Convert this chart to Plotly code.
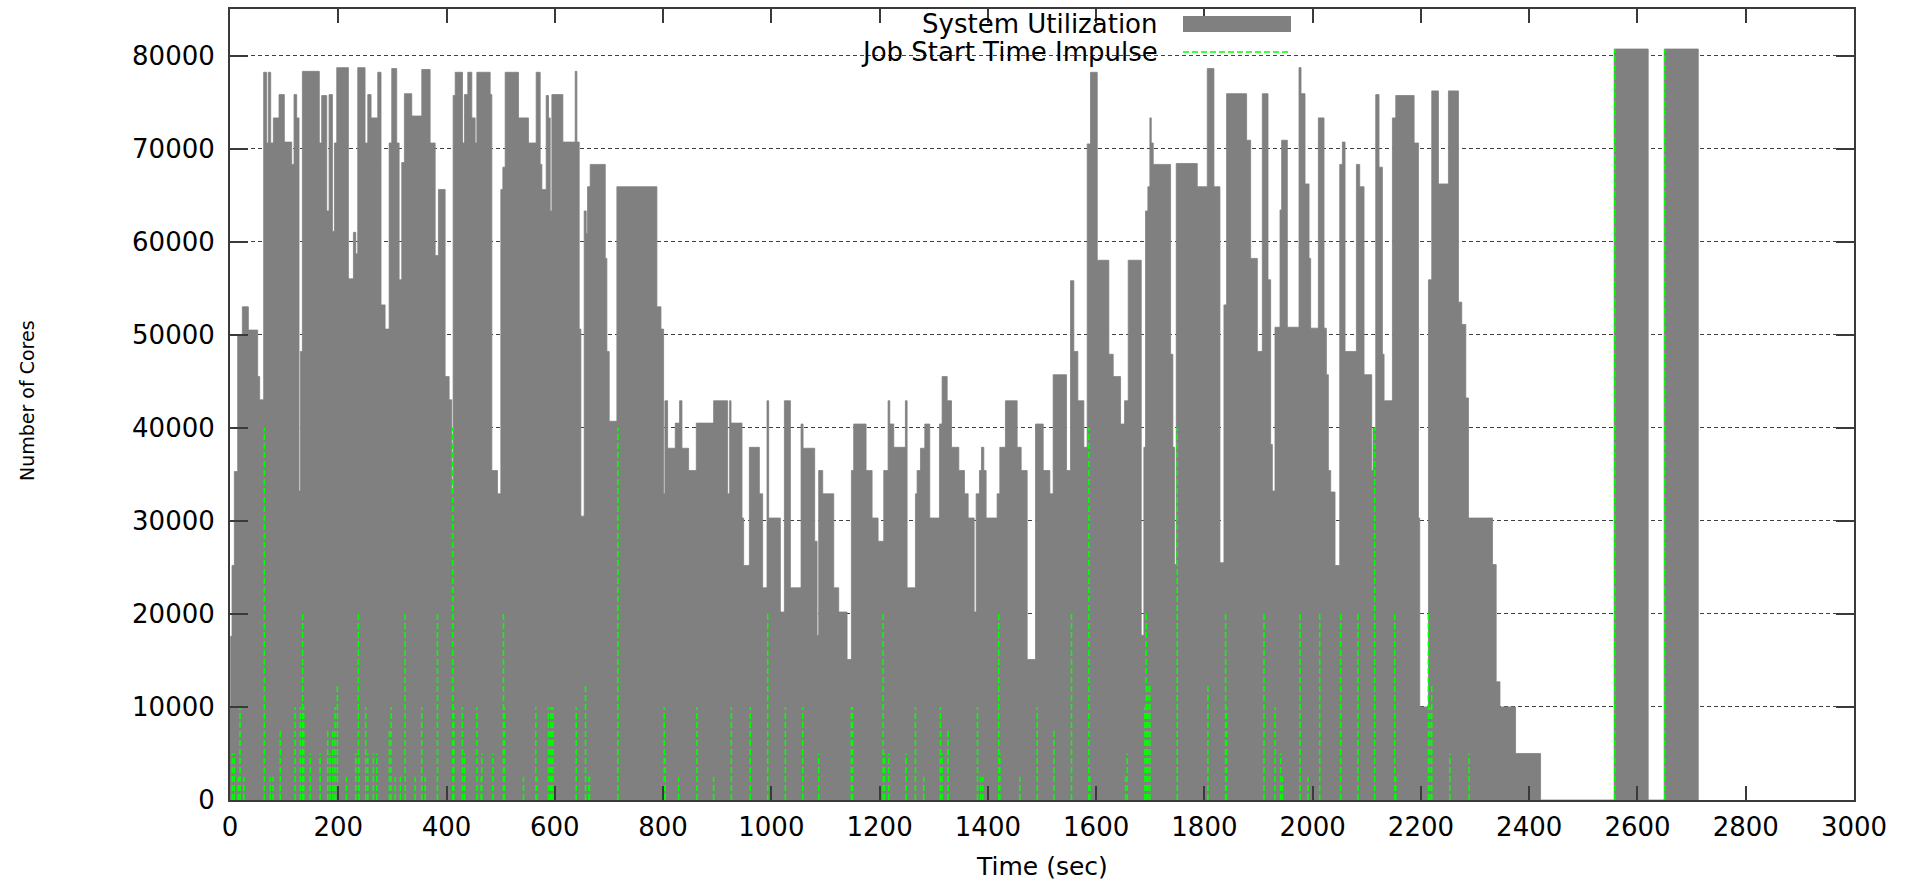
import plotly.graph_objects as go

# System utilization as a step function: each entry starts a new level (cores busy)
step_time_s = [
    0, 1.2, 3.7, 8.0, 14.2, 22.8, 33.9, 51.1, 54.8, 62.2, 67.8, 70.9, 75.2, 80.1, 90.6,
    100.4, 114.0, 118.3, 123.2, 127.5, 130.0, 133.7, 165.0, 169.4, 178.7, 183.0, 189.2,
    192.9, 197.2, 218.7, 228.0, 232.3, 236.0, 249.5, 254.5, 260.6, 273.0, 279.0, 286.5,
    294.0, 298.8, 308.0, 312.4, 317.3, 322.2, 335.8, 354.3, 369.7, 379.0, 385.0, 397.4,
    404.8, 409.7, 412.2, 416.0, 429.5, 433.0, 439.3, 446.7, 452.9, 456.0,
    480.6, 483.7, 494.1, 500.3, 504.0, 508.3, 533.0, 551.4, 565.6, 573.0, 576.1, 584.1,
    588.4, 591.5, 594.6, 614.9, 637.7, 640.8, 645.1, 648.2, 654.3, 658.0, 660.5, 665.4,
    693.2, 696.2, 700.5, 714.7, 788.6, 796.1, 801.0, 803.4, 808.4, 822.5, 830.5, 834.9,
    847.2, 861.4, 893.4, 919.3, 923.0, 925.5,
    945.8, 948.9, 959.4, 977.9, 984.0, 992.0, 995.1, 1016.7, 1024.1, 1035.2, 1054.9,
    1058.6, 1080.1, 1084.5, 1087.5, 1094.9, 1115.3, 1124.5, 1139.9, 1147.9, 1152.2,
    1175.0, 1186.1, 1197.2, 1207.7, 1215.7, 1218.8, 1226.2, 1247.7, 1250.8, 1266.2,
    1269.3, 1275.5, 1283.5, 1292.7, 1310.6, 1315.5, 1324.8, 1332.8, 1346.3, 1356.8,
    1363.6, 1374.7, 1378.4, 1384.5, 1388.2, 1392.5, 1396.8,
    1417.1, 1422.1, 1432.5, 1454.1, 1461.5, 1472.6, 1488.0, 1502.2, 1514.5, 1520.6,
    1545.3, 1552.7, 1558.8, 1566.2, 1577.3, 1583.5, 1589.6, 1602.0, 1623.5, 1631.5,
    1645.1, 1652.5, 1659.3, 1683.3, 1688.2, 1691.3, 1695.6, 1699.3, 1701.8, 1705.5,
    1737.5, 1741.8, 1744.9, 1748.0, 1786.8, 1805.3, 1817.6, 1828.7, 1836.1, 1841.0,
    1878.0, 1885.4, 1897.8, 1907.0, 1917.5, 1922.4, 1925.5, 1930.4, 1939.7, 1942.7,
    1953.2, 1974.8, 1978.5, 1985.9, 1993.3, 1996.3, 2010.5, 2021.0, 2025.3, 2029.0,
    2033.3, 2041.3, 2050.0, 2054.9, 2059.8, 2080.8, 2086.9, 2094.9, 2109.1, 2111.6,
    2116.5, 2122.6, 2128.8, 2131.9, 2147.3, 2153.5, 2187.4, 2195.4, 2197.8, 2213.9,
    2220.0, 2232.3, 2250.8, 2269.3, 2275.4, 2282.9, 2287.8, 2332.2, 2339.0, 2346.0,
    2374.8, 2421.0, 2557.0, 2619.8, 2649.4, 2712.3,
]
cores_in_use = [
    10000, 17600, 25200, 35300, 50000, 53000, 50500, 45500, 43000, 78200, 70600, 78200,
    70600, 73300, 75800, 70700, 68300, 75800, 73300, 33200, 48200, 78300, 70600, 75700,
    63300, 75800, 61100, 70600, 78700, 56000, 61000, 58700, 78700, 70600, 75800, 73300,
    78200, 53200, 50600, 70600, 78600, 70600, 55900, 68500, 75900, 73500, 78500, 70600,
    58500, 65600, 45500, 43000, 32900, 75700, 78200, 70600, 75800, 78200, 73300, 70600,
    78200,
    75800, 35400, 32900, 65600, 68000, 78200, 73300, 70600, 78200, 68300, 65600, 75700,
    73300, 63300, 75800, 70700, 78300, 70700, 50600, 30500, 63300, 60900, 65900, 68300,
    58200, 48200, 40700, 65900, 53000, 50600, 32900, 42900, 37800, 40500, 42900, 37800,
    35400, 40500, 42900, 32900, 42900, 40500,
    30300, 25200, 37900, 32900, 22800, 42900, 30300, 20200, 42900, 22800, 40400,
    37800, 27800, 17700, 35400, 32900, 22800, 20200, 15100, 35400, 40400,
    35400, 30300, 27800, 35400, 42900, 40400, 37900, 42900, 22800, 32900,
    35400, 37800, 40400, 30300, 40400, 45500, 42900, 37900, 35400, 32900,
    30300, 20200, 32900, 35400, 37900, 35400, 30300,
    32900, 37900, 42900, 37900, 35400, 15100, 40400, 35400, 32900, 45700,
    35400, 55800, 48200, 42900, 37900, 70500, 78200, 58000, 47900, 45500,
    40400, 42900, 58000, 17700, 37900, 63300, 65900, 73300, 70600, 68300,
    47900, 37900, 25300, 68400, 65900, 78600, 65900, 25500, 53200, 75900,
    70900, 58200, 48200, 75900, 55900, 38200, 33200, 50800, 63400, 70900,
    50800, 78700, 75900, 66200, 58200, 50700, 73300, 50700, 45700, 35400,
    33100, 25200, 68300, 70700, 48200, 68300, 65900, 45700, 35400, 40000,
    75800, 68000, 47900, 42900, 73300, 75700, 70600, 30300, 10000, 55900,
    76200, 66200, 76200, 53500, 51100, 43200, 30300, 25300, 12700, 10000,
    5000, 0, 80700, 0, 80700, 0,
]

# Job start times (sec) and the number of cores each job requested
job_start_s = [
    4.3, 8.0, 15.4, 18.5, 25.9, 63.5, 74.6, 79.5, 93.0, 120.1, 130.0, 134.3, 136.2,
    148.5, 166.4, 180.5, 184.8, 189.8, 194.1, 198.4, 215.0, 232.3, 237.2, 238.4, 250.8,
    254.5, 264.9, 271.1, 294.5, 297.6, 305.0, 314.8, 323.5, 341.9, 354.3, 360.4, 383.2,
    411.6, 413.4, 429.4, 433.1, 456.0, 463.9,
    465.2, 485.5, 505.2, 507.0, 542.2, 565.0, 567.0, 588.4, 591.5, 593.0, 596.4, 639.5,
    656.8, 662.4, 664.0, 716.6, 802.2, 804.0, 828.7, 862.6, 893.4, 926.1,
    961.2, 993.3, 1025.9, 1058.0, 1087.5, 1147.9, 1150.3, 1206.5, 1209.0, 1216.9, 1249.0,
    1266.2, 1281.6, 1312.4, 1315.5, 1326.6, 1380.8, 1386.4, 1390.6,
    1420.2, 1422.0, 1459.0, 1491.1, 1521.9, 1554.5, 1586.6, 1588.4, 1654.3, 1657.4,
    1690.1, 1692.5, 1695.6, 1699.3, 1749.8, 1806.5, 1839.2, 1841.0,
    1910.1, 1930.4, 1940.9, 1944.0, 1976.6, 1991.4, 2013.0, 2051.8, 2083.8, 2114.6,
    2151.6, 2153.5, 2213.9, 2216.4, 2220.0, 2253.3, 2289.0,
    2558.2, 2650.6,
]
job_cores = [
    5000, 5000, 2500, 10000, 2500, 40000, 2500, 2500, 7500, 10000, 10000, 20000, 10000,
    5000, 5000, 7500, 5000, 7500, 10000, 12500, 2500, 5000, 20000, 5000, 10000,
    5000, 5000, 5000, 7500, 10000, 2500, 2500, 20000, 2500, 10000, 2500, 20000,
    40000, 10000, 10000, 5000, 10000, 2500,
    5000, 5000, 20000, 10000, 2500, 10000, 2500, 10000, 7500, 10000, 10000, 10000,
    12500, 2500, 2500, 40000, 10000, 5000, 2500, 10000, 2500, 10000,
    10000, 20000, 10000, 10000, 5000, 10000, 10000, 20000, 5000, 5000, 5000,
    10000, 2500, 10000, 5000, 7500, 10000, 2500, 2500,
    20000, 5000, 2500, 10000, 7500, 20000, 40000, 2500, 2500, 5000,
    10000, 20000, 12500, 12500, 40000, 12500, 20000, 10000,
    20000, 10000, 5000, 2500, 20000, 2500, 20000, 20000, 20000, 40000,
    20000, 2500, 20000, 10000, 12500, 5000, 5000,
    80700, 80700,
]

x_ticks = [0, 200, 400, 600, 800, 1000, 1200, 1400, 1600, 1800, 2000, 2200, 2400, 2600, 2800, 3000]
y_ticks = [0, 10000, 20000, 30000, 40000, 50000, 60000, 70000, 80000]

GRAY = "#808080"
GREEN = "#00ff00"
FONT = "DejaVu Sans"

fig = go.Figure()

# filled step curve of cores in use
fig.add_trace(go.Scatter(
    x=step_time_s, y=cores_in_use, mode="lines", line_shape="hv",
    line=dict(color=GRAY, width=0.8), fill="tozeroy", fillcolor=GRAY,
    name="System Utilization", showlegend=False, hoverinfo="skip",
))

# one dashed impulse per job start, from zero up to the job's core count
imp_x, imp_y = [], []
for t, c in zip(job_start_s, job_cores):
    imp_x += [t, t, None]
    imp_y += [0, c, None]
fig.add_trace(go.Scatter(
    x=imp_x, y=imp_y, mode="lines",
    line=dict(color=GREEN, width=1.6, dash="6px,3px"),
    name="Job Start Time Impulse", showlegend=False, hoverinfo="skip",
))

# plot area in pixels, used to place the key and titles in paper units
L, R, T, B = 230, 53, 9, 85
W, H = 1907, 885
pw, ph = W - L - R, H - T - B


def px(x):
    return (x - L) / pw


def py(y):
    return (H - B - y) / ph


font = dict(family=FONT, size=26, color="black")

annotations = [
    dict(text="System Utilization", x=px(1160), y=py(24), xref="paper", yref="paper",
         xanchor="right", yanchor="middle", showarrow=False, font=font),
    dict(text="Job Start Time Impulse", x=px(1160), y=py(52), xref="paper", yref="paper",
         xanchor="right", yanchor="middle", showarrow=False, font=font),
    dict(text="Time (sec)", x=px(1042), y=py(866), xref="paper", yref="paper",
         xanchor="center", yanchor="middle", showarrow=False,
         font=dict(family=FONT, size=25, color="black")),
    dict(text="Number of Cores", x=px(27), y=py(401), xref="paper", yref="paper",
         xanchor="center", yanchor="middle", showarrow=False, textangle=-90,
         font=dict(family=FONT, size=19, color="black")),
]

shapes = [
    # white backing of the key
    dict(type="rect", xref="paper", yref="paper", x0=px(663), x1=px(1310), y0=py(65), y1=1,
         fillcolor="white", line=dict(width=0), layer="between"),
    # key samples
    dict(type="rect", xref="paper", yref="paper", x0=px(1183), x1=px(1291), y0=py(32), y1=py(16),
         fillcolor=GRAY, line=dict(width=0)),
    dict(type="line", xref="paper", yref="paper", x0=px(1183), x1=px(1291), y0=py(52), y1=py(52),
         line=dict(color=GREEN, width=1.6, dash="6px,3px")),
]

axis_common = dict(
    showline=True, mirror="ticks", linecolor="#3a3a3a", linewidth=2,
    ticks="inside", tickcolor="#3a3a3a", tickwidth=2,
    tickfont=dict(family=FONT, size=26, color="black"),
    zeroline=False,
)

fig.update_layout(
    width=W, height=H,
    margin=dict(l=L, r=R, t=T, b=B, autoexpand=False),
    paper_bgcolor="white", plot_bgcolor="white",
    showlegend=False,
    annotations=annotations, shapes=shapes,
    xaxis=dict(range=[0, 3000], tickvals=x_ticks, ticktext=[str(v) for v in x_ticks],
               ticklen=14, showgrid=False, ticklabelstandoff=3, **axis_common),
    yaxis=dict(range=[0, 85000], tickvals=y_ticks, ticktext=[str(v) for v in y_ticks],
               ticklen=18, showgrid=True, gridcolor="#404040", gridwidth=1,
               griddash="4px,3px", ticklabelstandoff=8, **axis_common),
)

fig.write_html("out.html")
